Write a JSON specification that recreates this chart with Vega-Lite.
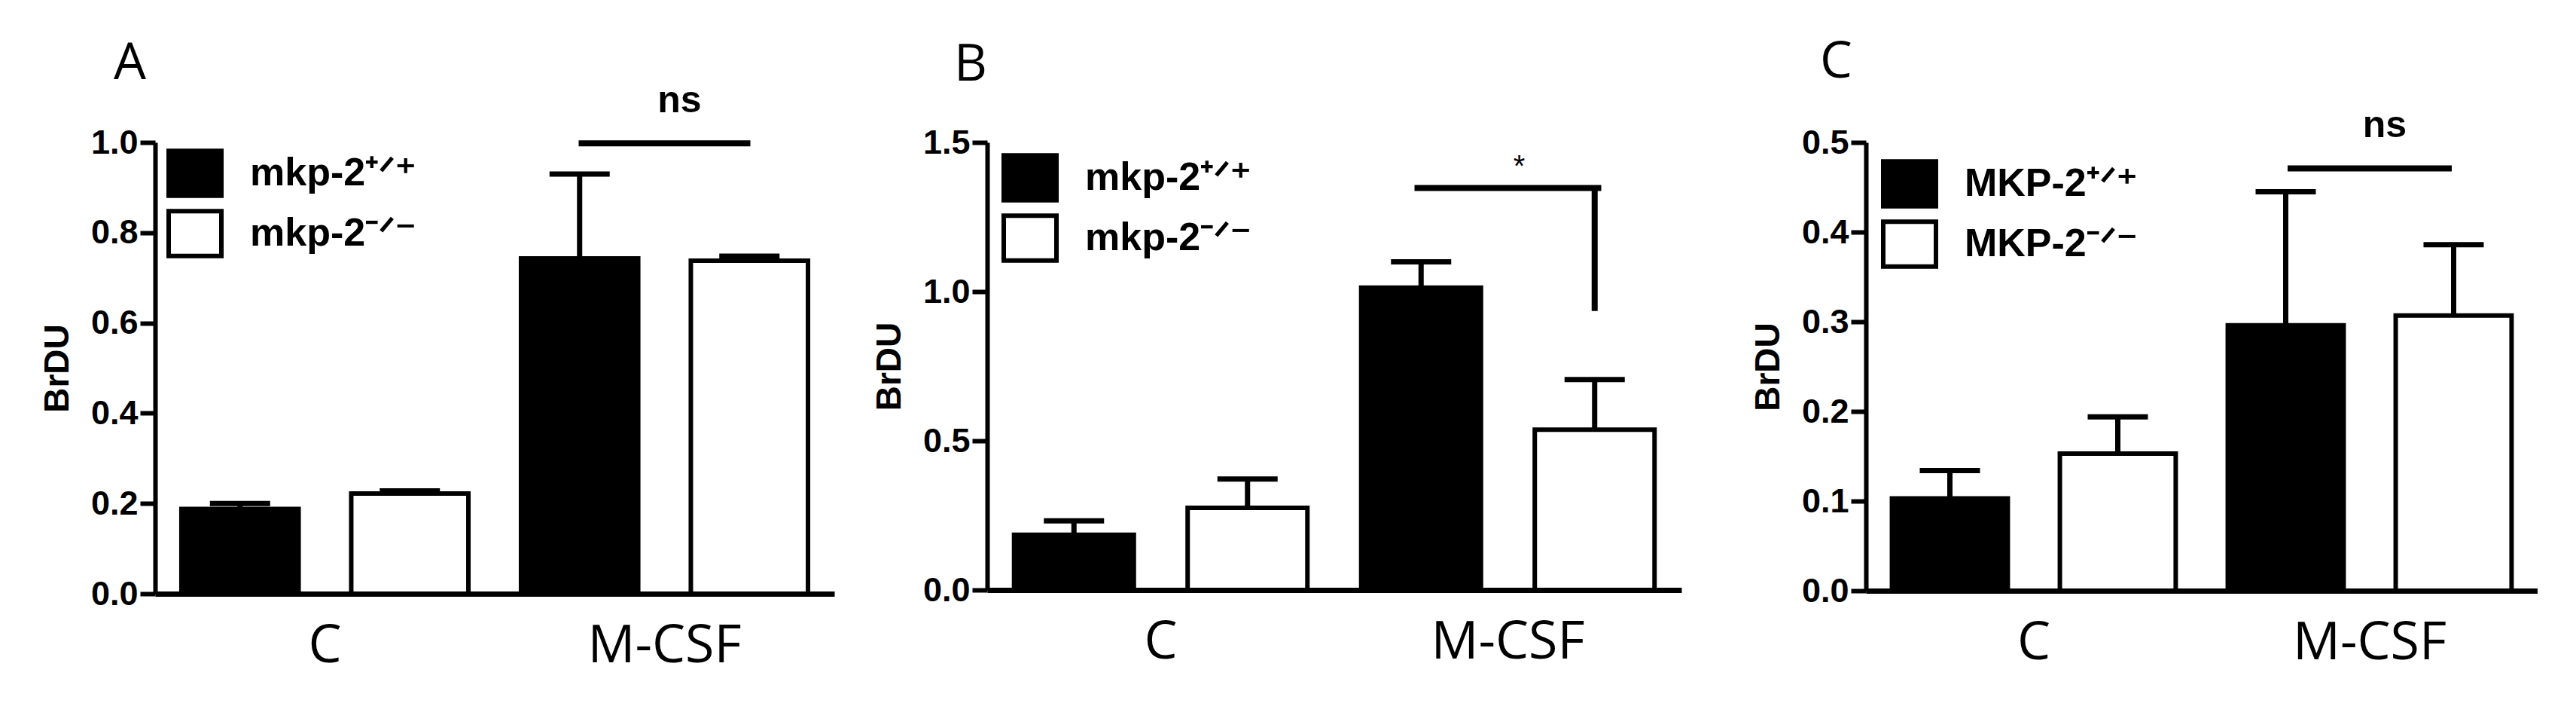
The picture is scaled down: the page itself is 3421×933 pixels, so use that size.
{
  "$schema": "https://vega.github.io/schema/vega-lite/v6.json",
  "background": "white",
  "padding": {"left": 53, "top": 48, "right": 0, "bottom": 40},
  "datasets": {
    "barsA": [
      {"group": "C", "genotype": "mkp-2⁺ᐟ⁺", "mean": 0.188, "upper": 0.2},
      {"group": "C", "genotype": "mkp-2⁻ᐟ⁻", "mean": 0.222, "upper": 0.228},
      {"group": "M-CSF", "genotype": "mkp-2⁺ᐟ⁺", "mean": 0.743, "upper": 0.93},
      {"group": "M-CSF", "genotype": "mkp-2⁻ᐟ⁻", "mean": 0.738, "upper": 0.748}
    ],
    "barsB": [
      {"group": "C", "genotype": "mkp-2⁺ᐟ⁺", "mean": 0.185, "upper": 0.232},
      {"group": "C", "genotype": "mkp-2⁻ᐟ⁻", "mean": 0.275, "upper": 0.372},
      {"group": "M-CSF", "genotype": "mkp-2⁺ᐟ⁺", "mean": 1.013, "upper": 1.1},
      {"group": "M-CSF", "genotype": "mkp-2⁻ᐟ⁻", "mean": 0.537, "upper": 0.705}
    ],
    "barsC": [
      {"group": "C", "genotype": "MKP-2⁺ᐟ⁺", "mean": 0.103, "upper": 0.134},
      {"group": "C", "genotype": "MKP-2⁻ᐟ⁻", "mean": 0.153, "upper": 0.194},
      {"group": "M-CSF", "genotype": "MKP-2⁺ᐟ⁺", "mean": 0.296, "upper": 0.445},
      {"group": "M-CSF", "genotype": "MKP-2⁻ᐟ⁻", "mean": 0.307, "upper": 0.386}
    ],
    "sigA": [{"group": "M-CSF", "genotype": "mkp-2⁻ᐟ⁻", "line": 0.998, "drop": 0.998, "label": "ns", "labelY": 1.067}],
    "sigB": [{"group": "M-CSF", "genotype": "mkp-2⁻ᐟ⁻", "line": 1.347, "drop": 0.935, "label": "*", "labelY": 1.386}],
    "sigC": [{"group": "M-CSF", "genotype": "MKP-2⁻ᐟ⁻", "line": 0.471, "drop": 0.471, "label": "ns", "labelY": 0.506}]
  },
  "spacing": 92,
  "hconcat": [
    {
      "spacing": 50,
      "resolve": {"scale": {"x": "independent", "y": "independent", "xOffset": "independent", "fill": "independent"}, "legend": {"fill": "independent"}},
      "hconcat": [
        {
          "width": 902, "height": 599,
          "title": {"text": "A", "dx": -55, "offset": -10},
          "layer": [
            {"data": {"name": "barsA"}, "mark": {"type": "bar", "stroke": "black", "strokeWidth": 6},
             "encoding": {
               "x": {"field": "group", "type": "nominal", "sort": ["C", "M-CSF"], "scale": {"paddingInner": 0, "paddingOuter": 0}, "title": null},
               "xOffset": {"field": "genotype", "type": "nominal", "scale": {"domain": ["mkp-2⁺ᐟ⁺", "mkp-2⁻ᐟ⁻"], "paddingInner": 0.31, "paddingOuter": 0.155}},
               "y": {"field": "mean", "type": "quantitative", "scale": {"domain": [0, 1], "nice": false}, "axis": {"values": [0, 0.2, 0.4, 0.6, 0.8, 1.0], "format": ".1f"}, "title": "BrDU"},
               "fill": {"field": "genotype", "type": "nominal", "scale": {"domain": ["mkp-2⁺ᐟ⁺", "mkp-2⁻ᐟ⁻"], "range": ["black", "white"]}, "legend": {"legendX": 15, "legendY": 3}}
             }},
            {"data": {"name": "barsA"}, "mark": {"type": "rule", "strokeWidth": 7, "color": "black"},
             "encoding": {
               "x": {"field": "group", "type": "nominal", "sort": ["C", "M-CSF"], "title": null},
               "xOffset": {"field": "genotype", "type": "nominal", "scale": {"domain": ["mkp-2⁺ᐟ⁺", "mkp-2⁻ᐟ⁻"]}},
               "y": {"field": "mean", "type": "quantitative", "scale": {"domain": [0, 1], "nice": false}, "title": "BrDU"},
               "y2": {"field": "upper"}
             }},
            {"data": {"name": "barsA"}, "mark": {"type": "tick", "orient": "horizontal", "size": 80, "thickness": 7, "color": "black", "opacity": 1},
             "encoding": {
               "x": {"field": "group", "type": "nominal", "sort": ["C", "M-CSF"], "title": null},
               "xOffset": {"field": "genotype", "type": "nominal", "scale": {"domain": ["mkp-2⁺ᐟ⁺", "mkp-2⁻ᐟ⁻"]}},
               "y": {"field": "upper", "type": "quantitative", "scale": {"domain": [0, 1], "nice": false}, "title": "BrDU"}
             }},
            {"data": {"name": "sigA"}, "mark": {"type": "tick", "orient": "horizontal", "size": 228, "thickness": 8, "color": "black", "opacity": 1},
             "encoding": {
               "x": {"field": "group", "type": "nominal", "sort": ["C", "M-CSF"], "title": null},
               "y": {"field": "line", "type": "quantitative", "scale": {"domain": [0, 1], "nice": false}, "title": "BrDU"}
             }},
            {"data": {"name": "sigA"}, "mark": {"type": "text", "font": "Liberation Sans", "fontWeight": "bold", "fontSize": 50, "baseline": "alphabetic", "dx": 20, "color": "black"},
             "encoding": {
               "x": {"field": "group", "type": "nominal", "sort": ["C", "M-CSF"], "title": null},
               "y": {"field": "labelY", "type": "quantitative", "scale": {"domain": [0, 1], "nice": false}, "title": "BrDU"},
               "text": {"field": "label"}
             }}
          ]
        },
        {
          "width": 922, "height": 594,
          "title": {"text": "B", "dx": -44, "offset": 46},
          "layer": [
            {"data": {"name": "barsB"}, "mark": {"type": "bar", "stroke": "black", "strokeWidth": 6},
             "encoding": {
               "x": {"field": "group", "type": "nominal", "sort": ["C", "M-CSF"], "scale": {"paddingInner": 0, "paddingOuter": 0}, "title": null},
               "xOffset": {"field": "genotype", "type": "nominal", "scale": {"domain": ["mkp-2⁺ᐟ⁺", "mkp-2⁻ᐟ⁻"], "paddingInner": 0.31, "paddingOuter": 0.155}},
               "y": {"field": "mean", "type": "quantitative", "scale": {"domain": [0, 1.5], "nice": false}, "axis": {"values": [0, 0.5, 1.0, 1.5], "format": ".1f"}, "title": "BrDU"},
               "fill": {"field": "genotype", "type": "nominal", "scale": {"domain": ["mkp-2⁺ᐟ⁺", "mkp-2⁻ᐟ⁻"], "range": ["black", "white"]}, "legend": {"legendX": 19, "legendY": 9}}
             }},
            {"data": {"name": "barsB"}, "mark": {"type": "rule", "strokeWidth": 7, "color": "black"},
             "encoding": {
               "x": {"field": "group", "type": "nominal", "sort": ["C", "M-CSF"], "title": null},
               "xOffset": {"field": "genotype", "type": "nominal", "scale": {"domain": ["mkp-2⁺ᐟ⁺", "mkp-2⁻ᐟ⁻"]}},
               "y": {"field": "mean", "type": "quantitative", "scale": {"domain": [0, 1.5], "nice": false}, "title": "BrDU"},
               "y2": {"field": "upper"}
             }},
            {"data": {"name": "barsB"}, "mark": {"type": "tick", "orient": "horizontal", "size": 80, "thickness": 7, "color": "black", "opacity": 1},
             "encoding": {
               "x": {"field": "group", "type": "nominal", "sort": ["C", "M-CSF"], "title": null},
               "xOffset": {"field": "genotype", "type": "nominal", "scale": {"domain": ["mkp-2⁺ᐟ⁺", "mkp-2⁻ᐟ⁻"]}},
               "y": {"field": "upper", "type": "quantitative", "scale": {"domain": [0, 1.5], "nice": false}, "title": "BrDU"}
             }},
            {"data": {"name": "sigB"}, "mark": {"type": "tick", "orient": "horizontal", "size": 248, "thickness": 8, "color": "black", "opacity": 1},
             "encoding": {
               "x": {"field": "group", "type": "nominal", "sort": ["C", "M-CSF"], "title": null},
               "y": {"field": "line", "type": "quantitative", "scale": {"domain": [0, 1.5], "nice": false}, "title": "BrDU"}
             }},
            {"data": {"name": "sigB"}, "mark": {"type": "rule", "strokeWidth": 8, "color": "black"},
             "encoding": {
               "x": {"field": "group", "type": "nominal", "sort": ["C", "M-CSF"], "title": null},
               "xOffset": {"field": "genotype", "type": "nominal", "scale": {"domain": ["mkp-2⁺ᐟ⁺", "mkp-2⁻ᐟ⁻"]}},
               "y": {"field": "line", "type": "quantitative", "scale": {"domain": [0, 1.5], "nice": false}, "title": "BrDU"},
               "y2": {"field": "drop"}
             }},
            {"data": {"name": "sigB"}, "mark": {"type": "text", "font": "Liberation Sans", "fontWeight": "normal", "fontSize": 40, "baseline": "alphabetic", "dx": 15, "color": "black"},
             "encoding": {
               "x": {"field": "group", "type": "nominal", "sort": ["C", "M-CSF"], "title": null},
               "y": {"field": "labelY", "type": "quantitative", "scale": {"domain": [0, 1.5], "nice": false}, "title": "BrDU"},
               "text": {"field": "label"}
             }}
          ]
        }
      ]
    },
    {
      "width": 892, "height": 595,
      "title": {"text": "C", "dx": -61, "offset": 25},
      "layer": [
        {"data": {"name": "barsC"}, "mark": {"type": "bar", "stroke": "black", "strokeWidth": 6},
         "encoding": {
           "x": {"field": "group", "type": "nominal", "sort": ["C", "M-CSF"], "scale": {"paddingInner": 0, "paddingOuter": 0}, "title": null},
           "xOffset": {"field": "genotype", "type": "nominal", "scale": {"domain": ["MKP-2⁺ᐟ⁺", "MKP-2⁻ᐟ⁻"], "paddingInner": 0.31, "paddingOuter": 0.155}},
           "y": {"field": "mean", "type": "quantitative", "scale": {"domain": [0, 0.5], "nice": false}, "axis": {"values": [0, 0.1, 0.2, 0.3, 0.4, 0.5], "format": ".1f"}, "title": "BrDU"},
           "fill": {"field": "genotype", "type": "nominal", "scale": {"domain": ["MKP-2⁺ᐟ⁺", "MKP-2⁻ᐟ⁻"], "range": ["black", "white"]}, "legend": {"legendX": 20, "legendY": 17}}
         }},
        {"data": {"name": "barsC"}, "mark": {"type": "rule", "strokeWidth": 7, "color": "black"},
         "encoding": {
           "x": {"field": "group", "type": "nominal", "sort": ["C", "M-CSF"], "title": null},
           "xOffset": {"field": "genotype", "type": "nominal", "scale": {"domain": ["MKP-2⁺ᐟ⁺", "MKP-2⁻ᐟ⁻"]}},
           "y": {"field": "mean", "type": "quantitative", "scale": {"domain": [0, 0.5], "nice": false}, "title": "BrDU"},
           "y2": {"field": "upper"}
         }},
        {"data": {"name": "barsC"}, "mark": {"type": "tick", "orient": "horizontal", "size": 80, "thickness": 7, "color": "black", "opacity": 1},
         "encoding": {
           "x": {"field": "group", "type": "nominal", "sort": ["C", "M-CSF"], "title": null},
           "xOffset": {"field": "genotype", "type": "nominal", "scale": {"domain": ["MKP-2⁺ᐟ⁺", "MKP-2⁻ᐟ⁻"]}},
           "y": {"field": "upper", "type": "quantitative", "scale": {"domain": [0, 0.5], "nice": false}, "title": "BrDU"}
         }},
        {"data": {"name": "sigC"}, "mark": {"type": "tick", "orient": "horizontal", "size": 218, "thickness": 8, "color": "black", "opacity": 1},
         "encoding": {
           "x": {"field": "group", "type": "nominal", "sort": ["C", "M-CSF"], "title": null},
           "y": {"field": "line", "type": "quantitative", "scale": {"domain": [0, 0.5], "nice": false}, "title": "BrDU"}
         }},
        {"data": {"name": "sigC"}, "mark": {"type": "text", "font": "Liberation Sans", "fontWeight": "bold", "fontSize": 50, "baseline": "alphabetic", "dx": 20, "color": "black"},
         "encoding": {
           "x": {"field": "group", "type": "nominal", "sort": ["C", "M-CSF"], "title": null},
           "y": {"field": "labelY", "type": "quantitative", "scale": {"domain": [0, 0.5], "nice": false}, "title": "BrDU"},
           "text": {"field": "label"}
         }}
      ]
    }
  ],
  "resolve": {"scale": {"x": "independent", "y": "independent", "xOffset": "independent", "fill": "independent"}, "legend": {"fill": "independent"}},
  "config": {
    "view": {"stroke": null},
    "font": "Liberation Sans",
    "axis": {"grid": false, "domainColor": "black", "tickColor": "black", "labelColor": "black", "titleColor": "black"},
    "axisY": {"domainWidth": 6, "tickWidth": 6, "tickSize": 20, "labelFont": "Liberation Sans", "labelFontWeight": "bold", "labelFontSize": 45, "labelPadding": 3, "titleFont": "Liberation Sans", "titleFontWeight": "bold", "titleFontSize": 46, "titlePadding": 20},
    "axisX": {"domainWidth": 7, "ticks": false, "labelFont": "Open Sans", "labelFontSize": 70, "labelFontWeight": "normal", "labelPadding": 35, "labelAngle": 0, "labelLimit": 1000},
    "legend": {"orient": "none", "title": null, "padding": 0, "symbolType": "M-1,-0.85H1V0.85H-1Z", "symbolSize": 4900, "symbolStrokeColor": "black", "symbolStrokeWidth": 6, "symbolOpacity": 1, "labelFont": "Liberation Sans", "labelFontWeight": "bold", "labelFontSize": 52, "labelOffset": 35, "labelLimit": 600, "rowPadding": -8, "labelColor": "black"},
    "title": {"font": "Open Sans", "fontSize": 68, "fontWeight": "normal", "anchor": "start", "frame": "group", "color": "black"}
  }
}
